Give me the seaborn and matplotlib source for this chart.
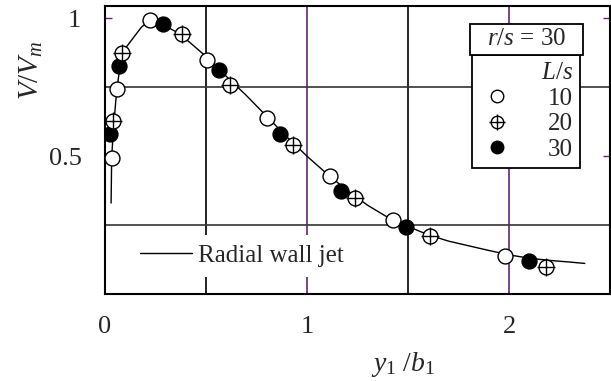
import matplotlib
matplotlib.use("Agg")
import matplotlib.pyplot as plt
from matplotlib.lines import Line2D
from matplotlib.patches import Rectangle
import seaborn as sns
import pandas as pd

# Radial wall jet reference profile
curve_x = [0.03, 0.033, 0.045, 0.058, 0.074, 0.087, 0.13, 0.18, 0.215, 0.25, 0.28,
           0.37, 0.5, 0.6, 0.7, 0.8, 0.9, 1.0, 1.1, 1.2, 1.3, 1.4, 1.5, 1.6, 1.7,
           1.8, 1.9, 2.0, 2.1, 2.2, 2.3, 2.375]
curve_y = [0.33, 0.50, 0.63, 0.74, 0.825, 0.878, 0.92, 0.968, 0.99, 0.995, 0.98,
           0.944, 0.862, 0.79, 0.72, 0.645, 0.57, 0.50, 0.435, 0.375, 0.322, 0.278,
           0.245, 0.215, 0.192, 0.175, 0.158, 0.142, 0.13, 0.122, 0.116, 0.111]

# Measured profiles for L/s = 10, 20, 30
ls10_x = [0.033, 0.059, 0.221, 0.505, 0.802, 1.114, 1.427, 1.980]
ls10_y = [0.494, 0.742, 0.993, 0.848, 0.639, 0.428, 0.268, 0.138]
ls20_x = [0.041, 0.086, 0.380, 0.619, 0.932, 1.238, 1.609, 2.183]
ls20_y = [0.628, 0.876, 0.944, 0.760, 0.541, 0.350, 0.210, 0.097]
ls30_x = [0.025, 0.069, 0.289, 0.564, 0.866, 1.168, 1.490, 2.101]
ls30_y = [0.579, 0.826, 0.981, 0.812, 0.580, 0.374, 0.242, 0.120]

ls_labels = ["10", "20", "30"]
x_ticks = [0, 1, 2]
y_ticks = [0.5, 1]
y_tick_labels = ["0.5", "1"]

sns.set_theme(style="white")
plt.rcParams["font.family"] = ["Liberation Serif", "DejaVu Serif"]
plt.rcParams["mathtext.fontset"] = "custom"
plt.rcParams["mathtext.rm"] = "Liberation Serif"
plt.rcParams["mathtext.it"] = "Liberation Serif:italic"
plt.rcParams["mathtext.bf"] = "Liberation Serif:bold"

PURPLE = "#5e2a6e"
FS = 18

fig = plt.figure(figsize=(6.11, 3.81), dpi=100)
ax = fig.add_axes([0.1719, 0.2283, 0.8265, 0.756])

ax.set_xlim(0, 2.5)
ax.set_ylim(0, 1.045)

# grid: purple at integer x, black at half values
ax.set_xticks(x_ticks)
ax.set_xticks([0.5, 1.5], minor=True)
ax.set_yticks(y_ticks)
ax.set_yticklabels(y_tick_labels)
ax.set_yticks([0.25, 0.5, 0.75], minor=True)
ax.grid(False)
ax.xaxis.grid(True, which="major", color=PURPLE, lw=1.2)
ax.xaxis.grid(True, which="minor", color="black", lw=1.2)
ax.yaxis.grid(True, which="minor", color="#333333", lw=1.2)
ax.set_axisbelow(True)

ax.tick_params(axis="both", which="major", direction="in", length=5, width=1,
               color=PURPLE, labelsize=19)
ax.tick_params(axis="x", which="major", pad=16)
ax.tick_params(axis="y", which="major", pad=17, left=True, right=True)
ax.tick_params(which="minor", length=0)
for sp in ax.spines.values():
    sp.set_color("black")
    sp.set_linewidth(1.5)

df_curve = pd.DataFrame({"x": curve_x, "y": curve_y})
sns.lineplot(data=df_curve, x="x", y="y", color="black", lw=1.0,
             estimator=None, sort=False, ax=ax, zorder=3)

circ_s = 115
sns.scatterplot(x=ls10_x, y=ls10_y, marker="o", s=circ_s, facecolor="white",
                edgecolor="black", linewidth=1.0, ax=ax, zorder=4)
sns.scatterplot(x=ls30_x, y=ls30_y, marker="o", s=circ_s, color="black",
                edgecolor="black", linewidth=1.0, ax=ax, zorder=5)
sns.scatterplot(x=ls20_x, y=ls20_y, marker="o", s=circ_s, facecolor="white",
                edgecolor="black", linewidth=1.0, ax=ax, zorder=6)
sns.scatterplot(x=ls20_x, y=ls20_y, marker="+", s=170, color="black",
                linewidth=1.0, ax=ax, zorder=7)

ax.set_xlabel(r"$y_{\mathit{1}}\ /b_{\mathit{1}}$", fontsize=20)
ax.xaxis.set_label_coords(0.59, -0.195)
ax.set_ylabel(r"$V/V_m$", fontsize=21)
ax.yaxis.set_label_coords(-0.118, 0.778)

# L/s legend
h10 = Line2D([], [], ls="none", marker="o", ms=9, mfc="white", mec="black", mew=1.0)
h20 = (Line2D([], [], ls="none", marker="o", ms=9, mfc="white", mec="black", mew=1.0),
       Line2D([], [], ls="none", marker="+", ms=11, color="black", mew=1.0))
h30 = Line2D([], [], ls="none", marker="o", ms=9, mfc="black", mec="black", mew=1.0)
leg = ax.legend([h10, h20, h30], ls_labels, title=r"$L/s$", title_fontsize=FS,
                fontsize=FS, loc="upper left", bbox_to_anchor=(0.727, 0.830),
                frameon=True, fancybox=False, edgecolor="black", framealpha=1,
                borderpad=0.3, handlelength=1.36, handletextpad=1.36,
                labelspacing=0.12, alignment="right", borderaxespad=0)
leg.get_frame().set_linewidth(1.3)
leg.set_zorder(10)
ax.add_artist(leg)

# r/s header box
ax.add_patch(Rectangle((0.723, 0.830), 0.2235, 0.1075, transform=ax.transAxes,
                       facecolor="white", edgecolor="black", lw=1.3, zorder=11,
                       clip_on=False))
ax.text(0.8345, 0.884, r"$r/s$ = 30", transform=ax.transAxes, ha="center",
        va="center", fontsize=FS, zorder=12)

# curve legend
hline = Line2D([], [], color="black", lw=1.0)
leg2 = ax.legend([hline], ["Radial wall jet"], fontsize=FS, loc="lower left",
                 bbox_to_anchor=(0.0495, 0.059), frameon=True, fancybox=False,
                 edgecolor="none", facecolor="white", framealpha=1,
                 borderpad=0.4, handlelength=2.08, handletextpad=0.24,
                 borderaxespad=0)
leg2.set_zorder(10)

fig.savefig("out.png", dpi=100)
